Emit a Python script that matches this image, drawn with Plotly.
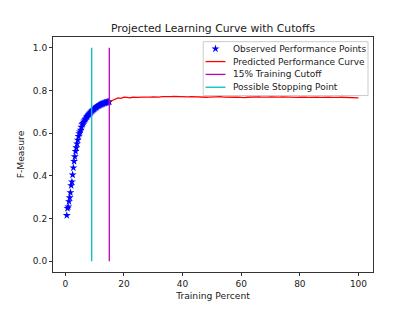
import plotly.graph_objects as go

# Observed performance points (training percent, F-measure)
obs_x = [0.5, 0.75, 1.0, 1.25, 1.5, 1.75, 2.0, 2.25, 2.5, 2.75, 3.0, 3.25, 3.5, 3.75,
         4.0, 4.25, 4.5, 4.75, 5.0, 5.25, 5.5, 5.75, 6.0, 6.25, 6.5, 6.75, 7.0, 7.25,
         7.5, 7.75, 8.0, 8.25, 8.5, 8.75, 9.0, 9.25, 9.5, 9.75, 10.0, 10.25, 10.5,
         10.75, 11.0, 11.25, 11.5, 11.75, 12.0, 12.25, 12.5, 12.75, 13.0, 13.25, 13.5,
         13.75, 14.0, 14.25, 14.5, 14.75, 15.0]
obs_y = [0.215, 0.248, 0.255, 0.280, 0.298, 0.322, 0.355, 0.372, 0.405, 0.438, 0.468,
         0.490, 0.515, 0.532, 0.550, 0.568, 0.585, 0.598, 0.606, 0.615, 0.628, 0.640,
         0.646, 0.652, 0.658, 0.664, 0.668, 0.675, 0.679, 0.684, 0.688, 0.692, 0.695,
         0.699, 0.703, 0.706, 0.709, 0.712, 0.715, 0.718, 0.721, 0.723, 0.726, 0.728,
         0.730, 0.732, 0.734, 0.735, 0.737, 0.738, 0.739, 0.741, 0.742, 0.743, 0.744,
         0.745, 0.746, 0.746, 0.747]

# Predicted performance curve
pred_x = list(range(15, 101))
pred_y = [0.747, 0.752, 0.760, 0.765, 0.763, 0.768, 0.767, 0.765, 0.768, 0.766,
          0.767, 0.769, 0.768, 0.767, 0.769, 0.770, 0.768, 0.769, 0.771, 0.770,
          0.769, 0.771, 0.772, 0.771, 0.770, 0.772, 0.771, 0.770, 0.771, 0.770,
          0.769, 0.771, 0.770, 0.768, 0.769, 0.770, 0.769, 0.770, 0.771, 0.769,
          0.768, 0.770, 0.769, 0.768, 0.769, 0.767, 0.766, 0.768, 0.769, 0.768,
          0.769, 0.770, 0.769, 0.768, 0.769, 0.770, 0.769, 0.768, 0.769, 0.770,
          0.769, 0.768, 0.769, 0.768, 0.767, 0.768, 0.769, 0.768, 0.767, 0.768,
          0.769, 0.768, 0.767, 0.768, 0.767, 0.768, 0.767, 0.766, 0.767, 0.768,
          0.767, 0.766, 0.767, 0.766, 0.766, 0.765]

# Cutoff lines
cutoff_x = [15, 15]
stop_x = [9, 9]
vline_y = [0, 1]

series_names = ["Observed Performance Points", "Predicted Performance Curve",
                "15% Training Cutoff", "Possible Stopping Point"]

x_ticks = [0, 20, 40, 60, 80, 100]
y_ticks = [0.0, 0.2, 0.4, 0.6, 0.8, 1.0]

FONT = "DejaVu Sans"
BLUE, RED, MAG, CYAN = "#0000ff", "#ff0000", "#bf00bf", "#00bfbf"
LW = 1.3

fig = go.Figure()
fig.add_trace(go.Scatter(x=obs_x, y=obs_y, mode="markers", name=series_names[0],
                         marker=dict(symbol="star", size=6, color=BLUE, line=dict(width=0))))
fig.add_trace(go.Scatter(x=pred_x, y=pred_y, mode="lines", name=series_names[1],
                         line=dict(color=RED, width=LW)))
fig.add_trace(go.Scatter(x=cutoff_x, y=vline_y, mode="lines", name=series_names[2],
                         line=dict(color=MAG, width=LW)))
fig.add_trace(go.Scatter(x=stop_x, y=vline_y, mode="lines", name=series_names[3],
                         line=dict(color=CYAN, width=LW)))

# ---- compact matplotlib-style legend (paper coordinates) ----
box = dict(x0=0.4695, x1=0.9844, y0=0.751, y1=0.980)
rows = [0.950, 0.8954, 0.8408, 0.7863]
hx0, hx1, tx = 0.4766, 0.5389, 0.5576
shapes = [dict(type="rect", xref="paper", yref="paper", layer="between",
               fillcolor="rgba(255,255,255,0.8)", line=dict(color="#cccccc", width=1), **box)]
annotations = []
handle_colors = [None, RED, MAG, CYAN]
for name, ry, col in zip(series_names, rows, handle_colors):
    if col is not None:
        shapes.append(dict(type="line", xref="paper", yref="paper", x0=hx0, x1=hx1,
                           y0=ry, y1=ry, line=dict(color=col, width=LW)))
    annotations.append(dict(xref="paper", yref="paper", x=tx, y=ry, xanchor="left",
                            yanchor="middle", text=name, showarrow=False,
                            font=dict(family=FONT, size=9, color="#222222")))
# legend star handle on an overlay axis spanning the plot area (0..1)
fig.add_trace(go.Scatter(x=[(hx0 + hx1) / 2], y=[rows[0]], xaxis="x2", yaxis="y2",
                         mode="markers", hoverinfo="skip",
                         marker=dict(symbol="star", size=6, color=BLUE, line=dict(width=0))))

axis_common = dict(showgrid=False, zeroline=False, showline=True, linecolor="#333333",
                   linewidth=1, mirror=True, ticks="outside", ticklen=3, tickcolor="#333333",
                   tickfont=dict(family=FONT, size=9, color="#222222"))

fig.update_layout(
    width=407, height=303,
    margin=dict(l=44, r=42, t=29, b=34),
    paper_bgcolor="white", plot_bgcolor="white",
    font=dict(family=FONT, size=9, color="#222222"),
    showlegend=False,
    title=dict(text="Projected Learning Curve with Cutoffs", x=0.5, xanchor="center",
               xref="paper", y=1 - 20 / 303, yanchor="middle", yref="container",
               font=dict(family=FONT, size=10.8, color="#222222")),
    xaxis=dict(range=[-4.2, 104.95], tickvals=x_ticks,
               title=dict(text="Training Percent", standoff=4, font=dict(size=9.2)),
               **axis_common),
    yaxis=dict(range=[-0.05, 1.05], tickvals=y_ticks, tickformat=".1f",
               title=dict(text="F-Measure", standoff=6, font=dict(size=9.2)),
               **axis_common),
    xaxis2=dict(overlaying="x", range=[0, 1], visible=False, fixedrange=True),
    yaxis2=dict(overlaying="y", range=[0, 1], visible=False, fixedrange=True),
    shapes=shapes,
    annotations=annotations,
)

fig.write_html("out.html")
